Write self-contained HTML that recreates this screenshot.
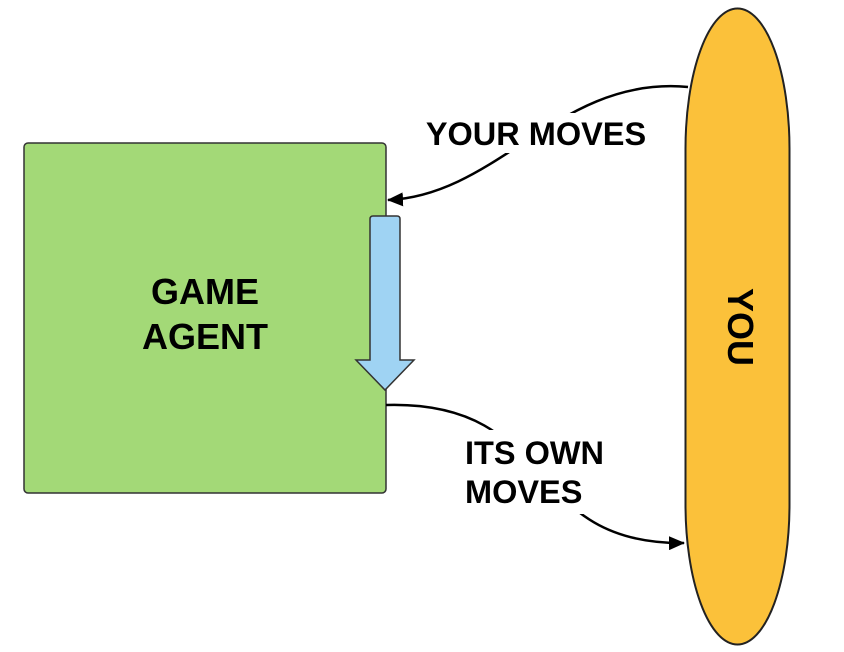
<!DOCTYPE html>
<html><head><meta charset="utf-8"><style>body{margin:0;background:#fff}</style></head>
<body>
<svg width="844" height="647" viewBox="0 0 844 647" xmlns="http://www.w3.org/2000/svg" font-family="Liberation Sans, sans-serif" font-weight="bold">
<defs><marker id="a" markerWidth="16" markerHeight="14" refX="15" refY="7" orient="auto" markerUnits="userSpaceOnUse"><path d="M0,0 L16,7 L0,14 z" fill="#000"/></marker></defs>
<rect x="24" y="143" width="362" height="350" rx="4" fill="#a3d977" stroke="#333" stroke-width="1.5"/>
<rect x="685.5" y="8.5" width="104" height="636" rx="52" ry="140" fill="#fbc13a" stroke="#222" stroke-width="2"/>
<path d="M370,219 Q370,216 373,216 L397,216 Q400,216 400,219 L400,360 L414,360 L385,390 L356,360 L370,360 Z" fill="#9fd3f3" stroke="#333" stroke-width="1.5"/>
<path d="M688,87 C560,75 500,195 388,200" fill="none" stroke="#000" stroke-width="2.5" marker-end="url(#a)"/>
<rect x="420" y="113" width="232" height="40" fill="#fff"/>
<text x="536" y="145" font-size="32.5" text-anchor="middle">YOUR MOVES</text>
<path d="M386,405 C560,400 520,545 684,543" fill="none" stroke="#000" stroke-width="2.5" marker-end="url(#a)"/>
<rect x="458" y="430" width="155" height="84" fill="#fff"/>
<text x="465" y="464" font-size="32.5">ITS OWN</text>
<text x="465" y="503" font-size="32.5">MOVES</text>
<text x="205" y="304" font-size="36" text-anchor="middle">GAME</text>
<text x="205" y="349" font-size="36" text-anchor="middle">AGENT</text>
<text transform="translate(728,327) rotate(90)" font-size="36" text-anchor="middle">YOU</text>
</svg>
</body></html>
